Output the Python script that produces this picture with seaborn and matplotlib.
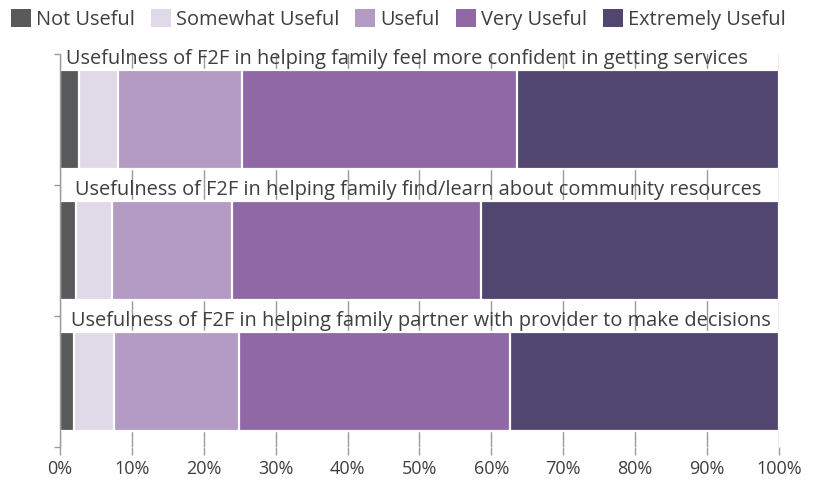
import matplotlib
matplotlib.use("Agg")
import matplotlib.pyplot as plt
from matplotlib.patches import Patch
import numpy as np
import pandas as pd
import seaborn as sns

# Survey responses (% of families) per question
questions = [
    "Usefulness of F2F in helping family feel more confident in getting services",
    "Usefulness of F2F in helping family find/learn about community resources",
    "Usefulness of F2F in helping family partner with provider to make decisions",
]
levels = ["Not Useful", "Somewhat Useful", "Useful", "Very Useful", "Extremely Useful"]
not_useful = [2.7, 2.2, 2.0]
somewhat_useful = [5.4, 5.0, 5.5]
useful = [17.2, 16.7, 17.4]
very_useful = [38.3, 34.7, 37.7]
extremely_useful = [36.4, 41.4, 37.4]
tick_values = [0, 10, 20, 30, 40, 50, 60, 70, 80, 90, 100]
tick_labels = [f"{v}%" for v in tick_values]

colors = ["#58595b", "#e0d9e8", "#b49bc4", "#8f68a5", "#514670"]
text_color = "#3f3f3f"
grid_color = "#9a9a9a"

sns.set_theme(style="white")
plt.rcParams["font.family"] = ["Open Sans", "DejaVu Sans"]

df = pd.DataFrame(
    {
        "question": questions,
        "Not Useful": not_useful,
        "Somewhat Useful": somewhat_useful,
        "Useful": useful,
        "Very Useful": very_useful,
        "Extremely Useful": extremely_useful,
    }
)
cum = df[levels].cumsum(axis=1)

fig = plt.figure(figsize=(8.28, 4.82), dpi=100)
ax = fig.add_axes([60 / 828, 1 - 447 / 482, (779 - 60) / 828, (447 - 54) / 482])

# Stacked bars: draw cumulative totals from the outermost segment inward
for level, color in reversed(list(zip(levels, colors))):
    sns.barplot(
        data=cum.assign(question=df["question"]),
        x=level,
        y="question",
        orient="h",
        color=color,
        width=0.755,
        edgecolor="white",
        linewidth=1.6,
        saturation=1,
        ax=ax,
        zorder=2,
    )

ax.set_xlim(0, 100)
ax.set_ylim(2.5, -0.5)
ax.set_xlabel("")
ax.set_ylabel("")

ax.set_xticks(tick_values)
ax.set_xticklabels(tick_labels)
ax.set_yticks([-0.5, 0.5, 1.5, 2.5])
ax.set_yticklabels([])
ax.tick_params(axis="x", direction="out", length=6, width=1, color=grid_color,
               labelsize=13, labelcolor=text_color, pad=3, bottom=True)
ax.tick_params(axis="y", direction="out", length=4, width=1, color=grid_color, left=True)

ax.grid(axis="x", color=grid_color, linewidth=1, zorder=0)
ax.grid(axis="y", visible=False)
ax.set_axisbelow(True)

for side in ["top", "right", "bottom"]:
    ax.spines[side].set_visible(False)
ax.spines["left"].set_color(grid_color)
ax.spines["left"].set_linewidth(1)

# Question titles above each bar
label_x = [48.2, 49.8, 50.2]
for i, (q, lx) in enumerate(zip(questions, label_x)):
    ax.text(lx, i - 0.378 - 0.045, q, ha="center", va="baseline",
            fontsize=14.4, color=text_color, zorder=3)

handles = [Patch(facecolor=c, edgecolor="none", label=l) for l, c in zip(levels, colors)]
fig.legend(
    handles=handles,
    loc="upper left",
    bbox_to_anchor=(-1 / 828, 1 + 3 / 482),
    ncol=5,
    frameon=False,
    fontsize=14.4,
    labelcolor=text_color,
    handlelength=1.0,
    handleheight=1.0,
    handletextpad=0.25,
    columnspacing=0.8,
    borderaxespad=0.2,
)

fig.savefig("out.png", dpi=100)
